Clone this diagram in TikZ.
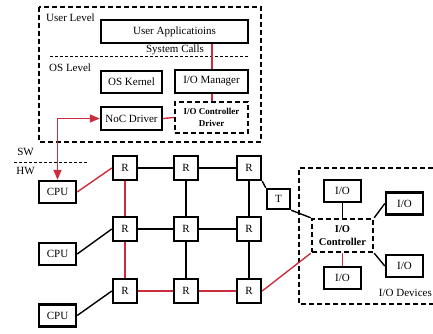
\documentclass[tikz,border=0pt]{standalone}
\usepackage{fontspec}
\setmainfont{Liberation Serif}
\usetikzlibrary{arrows.meta}
\definecolor{redline}{RGB}{204,45,60}
\begin{document}
\begin{tikzpicture}[x=1pt,y=-1pt,
  box/.style={draw, line width=2.4pt, inner sep=0pt, align=center, font=\fontsize{11}{12}\selectfont},
  dbox/.style={box, dash pattern=on 5pt off 3pt},
  router/.style={box, minimum width=24pt, minimum height=24pt},
  iobox/.style={box, minimum width=37pt, minimum height=22pt},
  conn/.style={line width=1.4pt},
  rconn/.style={line width=1.4pt, draw=redline},
  frame/.style={line width=1.4pt, dash pattern=on 5pt off 3pt},
  lbl/.style={inner sep=0pt, font=\fontsize{11}{12}\selectfont}]
\useasboundingbox (0,0) rectangle (433,333);

% software frame
\draw[frame] (39,7) rectangle (261,142);
\draw[line width=1pt, dash pattern=on 3pt off 2pt] (50,56) -- (249,56);
\node[lbl, anchor=west] (ul) at (46,18) {User Level};
\node[lbl, anchor=west] (ol) at (49,68) {OS Level};
\node[lbl] (sc) at (175,50) {System Calls};

\node[box, minimum width=147pt, minimum height=23pt] (ua) at (174.5,31.5) {User Applicatioins};
\node[box, minimum width=61pt, minimum height=22pt] (osk) at (131.5,82) {OS Kernel};
\node[box, minimum width=73pt, minimum height=23pt] (iom) at (211.5,81.5) {I/O Manager};
\node[box, minimum width=61pt, minimum height=23pt] (noc) at (131.5,118.5) {NoC Driver};
\node[dbox, minimum width=73pt, minimum height=31pt, font=\bfseries\fontsize{9}{11.5}\selectfont] (iocd) at (211.5,117.5) {I/O Controller\\Driver};

\draw[rconn] (ua.south -| 212,0) -- (iom.north -| 212,0);
\draw[rconn] (iom.south -| 212,0) -- (iocd.north -| 212,0);
\draw[rconn] (noc.east) -- (iocd.west);

% SW / HW
\node[lbl] (sw) at (25.5,152) {SW};
\node[lbl] (hw) at (25.5,171) {HW};
\draw[line width=1pt, dash pattern=on 3pt off 2pt] (14,162) -- (88,162);

% CPUs
\node[iobox] (cpu1) at (57.5,192) {CPU};
\node[iobox] (cpu2) at (57.5,254) {CPU};
\node[iobox] (cpu3) at (57.5,315.5) {CPU};

\draw[rconn, {Triangle[length=10pt,width=8pt]}-{Triangle[length=10pt,width=8pt]}]
  (noc.west) -- (57.5,118.5) -- (cpu1.north);

% routers
\node[router] (r11) at (125,168) {R};
\node[router] (r12) at (186,168) {R};
\node[router] (r13) at (249,168) {R};
\node[router] (r21) at (125,229) {R};
\node[router] (r22) at (186,229) {R};
\node[router] (r23) at (249,229) {R};
\node[router] (r31) at (125,291) {R};
\node[router] (r32) at (186,291) {R};
\node[router] (r33) at (249,291) {R};

\draw[conn] (r11) -- (r12);
\draw[conn] (r12) -- (r13);
\draw[conn] (r21) -- (r22);
\draw[conn] (r22) -- (r23);
\draw[rconn] (r31) -- (r32);
\draw[rconn] (r32) -- (r33);
\draw[rconn] (r11) -- (r21);
\draw[rconn] (r21) -- (r31);
\draw[conn] (r12) -- (r22);
\draw[conn] (r22) -- (r32);
\draw[conn] (r13) -- (r23);
\draw[conn] (r23) -- (r33);

\draw[rconn] (cpu1.east) -- (r11.west);
\draw[conn] (cpu2.east) -- (r21.west);
\draw[conn] (cpu3.east) -- (r31.west);

% T
\node[box, minimum width=23pt, minimum height=20pt] (t) at (278.5,199) {T};

% I/O devices
\draw[frame] (433,168) -- (299,168) -- (299,304) -- (433,304);
\node[lbl, anchor=east] (iod) at (432,293) {I/O Devices};
\node[dbox, minimum width=61pt, minimum height=33pt, font=\bfseries\fontsize{10.5}{13}\selectfont] (ioc) at (342.5,235.5) {I/O\\Controller};
\node[iobox] (iot) at (342.5,191) {I/O};
\node[iobox] (iob) at (342.5,278) {I/O};
\node[iobox] (iort) at (404.5,203.5) {I/O};
\node[iobox] (iorb) at (404.5,266) {I/O};

\draw[conn] (r13.south east) -- (t.north west);
\draw[conn] (t.south east) -- (ioc.north west);
\draw[rconn] (r33.east) -- (ioc.south west);
\draw[conn] (iot.south) -- (ioc.north);
\draw[rconn] (ioc.south) -- (iob.north);
\draw[conn] (ioc.north east) -- (iort.west);
\draw[conn] (ioc.south east) -- (iorb.west);
\end{tikzpicture}
\end{document}
